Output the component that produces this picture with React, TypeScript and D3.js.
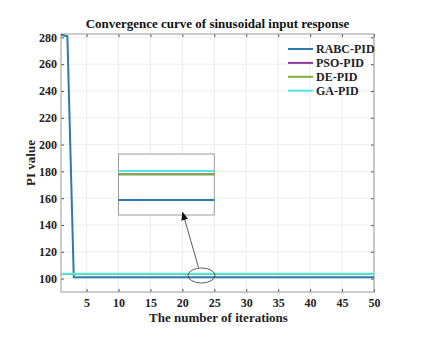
import { useEffect, useRef } from 'react';
import * as d3 from 'd3';

// chart values
const xTicks = [5, 10, 15, 20, 25, 30, 35, 40, 45, 50];
const yTicks = [100, 120, 140, 160, 180, 200, 220, 240, 260, 280];
const iterRABC = [1, 2, 3, 50];
const valRABC = [282, 280.8, 101, 101];
const iterOther = [1, 50];
const valPSO = [103.4, 103.4];
const valDE = [103.4, 103.4];
const valGA = [103.7, 103.7];
const seriesNames = ['RABC-PID', 'PSO-PID', 'DE-PID', 'GA-PID'];
const seriesColors = ['#2b7bb0', '#8a3b9c', '#7fae3a', '#4fe8e6'];

const W = 427;
const H = 340;
const m = { left: 61, right: 53, top: 34, bottom: 48 };
const font = '"Liberation Serif", "Times New Roman", serif';

export default function App() {
  const svgRef = useRef<SVGSVGElement>(null);

  useEffect(() => {
    const svg = d3.select(svgRef.current);
    svg.selectAll('*').remove();

    const iw = W - m.left - m.right;
    const ih = H - m.top - m.bottom;

    const x = d3.scaleLinear().domain([1, 50]).range([0, iw]);
    const y = d3.scaleLinear().domain([90, 282.5]).range([ih, 0]);

    svg.append('rect').attr('width', W).attr('height', H).attr('fill', '#fff');

    svg.append('text')
      .attr('x', m.left + iw / 2)
      .attr('y', 28)
      .attr('text-anchor', 'middle')
      .style('font-family', font)
      .style('font-weight', 'bold')
      .style('font-size', '13px')
      .attr('fill', '#111')
      .text('Convergence curve of sinusoidal input response');

    const g = svg.append('g').attr('transform', `translate(${m.left},${m.top})`);

    // grid
    g.append('g').selectAll('line.gx').data(xTicks).enter().append('line')
      .attr('x1', d => x(d)).attr('x2', d => x(d))
      .attr('y1', 0).attr('y2', ih)
      .attr('stroke', '#e8e8e8').attr('stroke-width', 0.8);
    g.append('g').selectAll('line.gy').data(yTicks).enter().append('line')
      .attr('x1', 0).attr('x2', iw)
      .attr('y1', d => y(d)).attr('y2', d => y(d))
      .attr('stroke', '#e8e8e8').attr('stroke-width', 0.8);

    const styleAxis = (sel: any) => {
      sel.select('.domain').remove();
      sel.selectAll('line').attr('stroke', '#555');
      sel.selectAll('text')
        .style('font-family', font)
        .style('font-weight', 'bold')
        .style('font-size', '12px')
        .attr('fill', '#222');
    };

    g.append('g').attr('transform', `translate(0,${ih})`)
      .call(d3.axisBottom(x).tickValues(xTicks).tickSize(-3).tickPadding(6))
      .call(styleAxis);
    g.append('g')
      .call(d3.axisLeft(y).tickValues(yTicks).tickSize(-3).tickPadding(4))
      .call(styleAxis);
    g.append('g')
      .call(d3.axisTop(x).tickValues(xTicks).tickSize(-3).tickFormat(() => ''))
      .call(styleAxis);
    g.append('g').attr('transform', `translate(${iw},0)`)
      .call(d3.axisRight(y).tickValues(yTicks).tickSize(-3).tickFormat(() => ''))
      .call(styleAxis);

    g.append('rect').attr('width', iw).attr('height', ih)
      .attr('fill', 'none').attr('stroke', '#9a9a9a').attr('stroke-width', 1);

    const line = d3.line<[number, number]>().x(d => x(d[0])).y(d => y(d[1]));
    const series: [number, number][][] = [
      iterRABC.map((it, i) => [it, valRABC[i]]),
      iterOther.map((it, i) => [it, valPSO[i]]),
      iterOther.map((it, i) => [it, valDE[i]]),
      iterOther.map((it, i) => [it, valGA[i]]),
    ];
    series.forEach((s, i) => {
      g.append('path').datum(s)
        .attr('fill', 'none')
        .attr('stroke', seriesColors[i])
        .attr('stroke-width', 2)
        .attr('d', line);
    });

    // ellipse marking the zoomed region
    const ex = x(23);
    const ey = y(102.3);
    g.append('ellipse')
      .attr('cx', ex).attr('cy', ey).attr('rx', 13.5).attr('ry', 7.5)
      .attr('fill', 'none').attr('stroke', '#333').attr('stroke-width', 0.8);

    // inset box
    const ix0 = x(10), ix1 = x(25);
    const iy0 = 154 - m.top, iy1 = 215 - m.top;
    const inset = g.append('g');
    inset.append('rect')
      .attr('x', ix0).attr('y', iy0).attr('width', ix1 - ix0).attr('height', iy1 - iy0)
      .attr('fill', '#fff').attr('stroke', '#9a9a9a').attr('stroke-width', 1);
    const xi = d3.scaleLinear().domain([10, 25]).range([ix0, ix1]);
    const yi = d3.scaleLinear().domain([99.6, 105.3]).range([iy1, iy0]);
    const lineI = d3.line<[number, number]>().x(d => xi(d[0])).y(d => yi(d[1]));
    [valRABC[3], valPSO[0], valDE[0], valGA[0]].forEach((v, i) => {
      inset.append('path').datum([[10, v], [25, v]] as [number, number][])
        .attr('fill', 'none')
        .attr('stroke', seriesColors[i])
        .attr('stroke-width', 2)
        .attr('d', lineI);
    });

    // arrow from ellipse to inset
    const ax0 = ex - 3, ay0 = ey - 8;
    const ax1 = 182.5 - m.left, ay1 = 212 - m.top;
    g.append('line')
      .attr('x1', ax0).attr('y1', ay0).attr('x2', ax1).attr('y2', ay1)
      .attr('stroke', '#333').attr('stroke-width', 0.8);
    const ang = Math.atan2(ay1 - ay0, ax1 - ax0);
    const hl = 8, hw = 3.5;
    const bx = ax1 - hl * Math.cos(ang), by = ay1 - hl * Math.sin(ang);
    g.append('path')
      .attr('d', `M${ax1},${ay1} L${bx - hw * Math.sin(ang)},${by + hw * Math.cos(ang)} L${bx + hw * Math.sin(ang)},${by - hw * Math.cos(ang)} Z`)
      .attr('fill', '#111');

    // legend
    const lg = svg.append('g').attr('transform', 'translate(288,49)');
    seriesNames.forEach((name, i) => {
      const row = lg.append('g').attr('transform', `translate(0,${i * 13.9})`);
      row.append('line').attr('x1', 0).attr('x2', 25).attr('y1', 0).attr('y2', 0)
        .attr('stroke', seriesColors[i]).attr('stroke-width', 2);
      row.append('text').attr('x', 28).attr('y', 4)
        .style('font-family', font)
        .style('font-weight', 'bold')
        .style('font-size', '12px')
        .attr('fill', '#222')
        .text(name);
    });

    // axis labels
    svg.append('text')
      .attr('x', m.left + iw / 2 + 1)
      .attr('y', 322)
      .attr('text-anchor', 'middle')
      .style('font-family', font)
      .style('font-weight', 'bold')
      .style('font-size', '13px')
      .attr('fill', '#222')
      .text('The number of iterations');

    svg.append('text')
      .attr('transform', `translate(35,${m.top + ih / 2}) rotate(-90)`)
      .attr('text-anchor', 'middle')
      .style('font-family', font)
      .style('font-weight', 'bold')
      .style('font-size', '13px')
      .attr('fill', '#222')
      .text('PI value');
  }, []);

  return (
    <svg ref={svgRef} width={W} height={H}
      style={{ position: 'absolute', left: 0, top: 0, display: 'block' }} />
  );
}
